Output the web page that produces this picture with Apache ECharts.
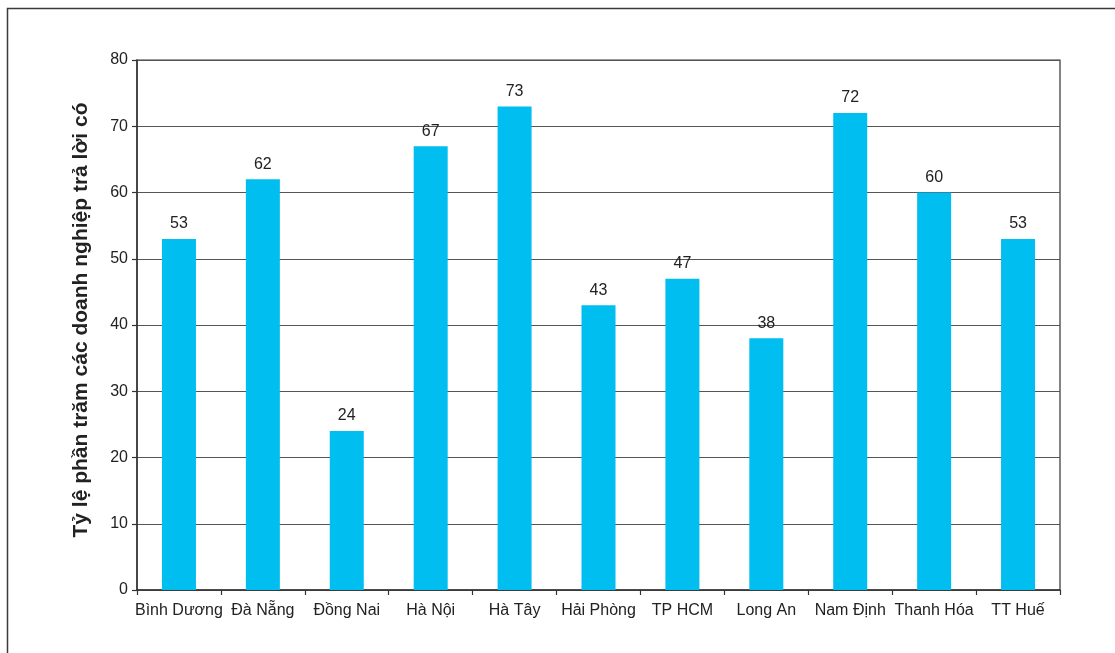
<!DOCTYPE html>
<html>
<head>
<meta charset="utf-8">
<script src="https://cdn.jsdelivr.net/npm/echarts@6/dist/echarts.min.js"></script>
<style>
  html, body { margin: 0; padding: 0; background: #fff; }
  #chart { width: 1115px; height: 653px; }
</style>
</head>
<body>
<div id="chart"></div>
<script>
// Provinces / cities surveyed
const categories = ['Bình Dương', 'Đà Nẵng', 'Đồng Nai', 'Hà Nội', 'Hà Tây', 'Hải Phòng',
  'TP HCM', 'Long An', 'Nam Định', 'Thanh Hóa', 'TT Huế'];
// Percentage of firms answering "yes"
const values = [53, 62, 24, 67, 73, 43, 47, 38, 72, 60, 53];
const yAxisTitle = 'Tỷ lệ phần trăm các doanh nghiệp trả lời có';

const chart = echarts.init(document.getElementById('chart'));
const font = 'Liberation Sans, Arial, sans-serif';

chart.setOption({
  animation: false,
  backgroundColor: '#fff',
  graphic: [{
    type: 'rect',
    shape: { x: 7.5, y: 8.5, width: 1200, height: 800 },
    style: { fill: 'none', stroke: '#3a3a3a', lineWidth: 1.5 },
    silent: true
  }],
  grid: { left: 137, top: 60, right: 55, bottom: 63, show: true, borderColor: '#333', borderWidth: 1.2 },
  xAxis: {
    type: 'category',
    data: categories,
    axisLine: { lineStyle: { color: '#333', width: 1.5 } },
    axisTick: { show: true, length: 5, alignWithLabel: false, lineStyle: { color: '#333', width: 1.2 } },
    axisLabel: { color: '#222', fontSize: 16, fontFamily: font, margin: 13, interval: 0 }
  },
  yAxis: {
    type: 'value',
    min: 0, max: 80, interval: 10,
    name: yAxisTitle,
    nameLocation: 'middle',
    nameGap: 45,
    nameTextStyle: { color: '#222', fontSize: 21, fontWeight: 'bold', fontFamily: font, padding: [0, 0, 0, 10] },
    axisLine: { show: true, lineStyle: { color: '#333', width: 1.5 } },
    axisTick: { show: true, length: 5, lineStyle: { color: '#333', width: 1.2 } },
    axisLabel: { color: '#222', fontSize: 16, fontFamily: font, margin: 9 },
    splitLine: { lineStyle: { color: '#555', width: 1.2 } }
  },
  series: [{
    type: 'bar',
    data: values,
    barWidth: 34,
    itemStyle: { color: '#00BEF0' },
    label: { show: true, position: 'top', distance: 7, color: '#222', fontSize: 16, fontFamily: font }
  }]
});
</script>
</body>
</html>
